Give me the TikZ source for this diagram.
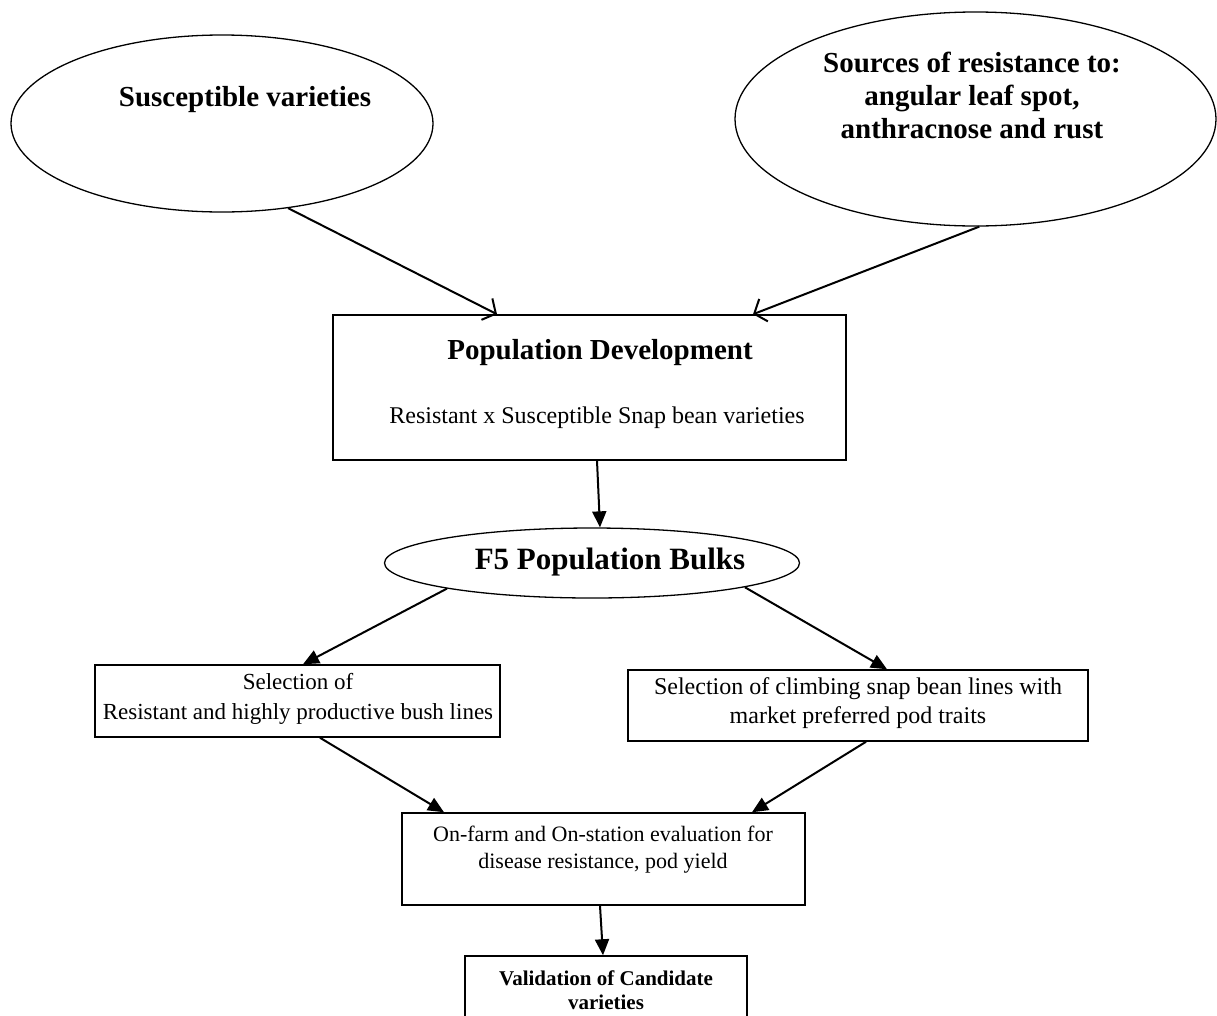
\documentclass[tikz,border=0pt]{standalone}
\usepackage{fontspec}
\setmainfont{Liberation Serif}
\usetikzlibrary{arrows.meta,shapes.geometric}
\begin{document}
\begin{tikzpicture}[x=1pt,y=-1pt,
  ell/.style={draw, line width=1.3pt, ellipse, inner sep=0pt},
  box/.style={draw, line width=1.5pt, rectangle, inner sep=0pt},
  openarr/.style={line width=2pt, -{Straight Barb[length=10pt,width=24pt]}},
  fillarr/.style={line width=2pt, -{Triangle[length=16pt,width=14pt]}},
  bigb/.style={font=\fontsize{29}{33}\selectfont\bfseries, align=center, inner sep=0pt},
  reg/.style={font=\fontsize{24}{30}\selectfont, align=center, inner sep=0pt},
  small/.style={font=\fontsize{22}{27}\selectfont, align=center, inner sep=0pt},
  smallb/.style={font=\fontsize{21}{24}\selectfont\bfseries, align=center, inner sep=0pt},
]
\useasboundingbox (0,0) rectangle (1217,1015);
\fill[white] (0,0) rectangle (1217,1015);

% ellipses
\node[ell, minimum width=422pt, minimum height=177pt] (sus) at (222,123.5) {};
\node[bigb] (sust) at (245,100) {Susceptible varieties};
\node[ell, minimum width=481pt, minimum height=214pt] (src) at (975.5,119) {};
\node[bigb] (srct) at (972,95) {Sources of resistance to:\\angular leaf spot,\\anthracnose and rust};

% population development
\node[box, minimum width=513pt, minimum height=145pt] (pd) at (589.5,387.5) {};
\node[bigb] (pdt) at (600,353) {Population Development};
\node[reg] (pds) at (597,418) {Resistant x Susceptible Snap bean varieties};

% F5
\node[ell, minimum width=415pt, minimum height=70pt] (f5) at (592,563) {};
\node[font=\fontsize{31}{35}\selectfont\bfseries, inner sep=0pt] (f5t) at (610,562) {F5 Population Bulks};

% selection boxes
\node[box, minimum width=405pt, minimum height=72pt] (lb) at (297.5,701) {};
\node[reg, font=\fontsize{23}{30}\selectfont] (lbt) at (298,699) {Selection of\\Resistant and highly productive bush lines};
\node[box, minimum width=460pt, minimum height=71pt] (rb) at (858,705.5) {};
\node[reg, font=\fontsize{24}{29}\selectfont] (rbt) at (858,703) {Selection of climbing snap bean lines with\\market preferred pod traits};

% evaluation
\node[box, minimum width=403pt, minimum height=92pt] (ev) at (603.5,859) {};
\node[small] (evt) at (603,850) {On-farm and On-station evaluation for\\disease resistance, pod yield};

% validation
\node[box, minimum width=282pt, minimum height=78pt] (va) at (606,995) {};
\node[smallb] (vat) at (606,990) {Validation of Candidate\\varieties};

% connectors
\draw[openarr] (sus.-52) -- ([xshift=-92.5pt]pd.north);
\draw[openarr] (src.-88) -- ([xshift=163.5pt]pd.north);
\draw[fillarr] ([xshift=7.5pt]pd.south) -- ([xshift=8pt]f5.north);
\draw[fillarr] (f5.-170.5) -- ([xshift=5.5pt]lb.north);
\draw[fillarr] (f5.-9) -- ([xshift=29pt]rb.north);
\draw[fillarr] ([xshift=22.5pt]lb.south) -- ([xshift=-159.5pt]ev.north);
\draw[fillarr] ([xshift=8pt]rb.south) -- ([xshift=148.5pt]ev.north);
\draw[fillarr] ([xshift=-3.5pt]ev.south) -- ([xshift=-3pt]va.north);
\end{tikzpicture}
\end{document}
